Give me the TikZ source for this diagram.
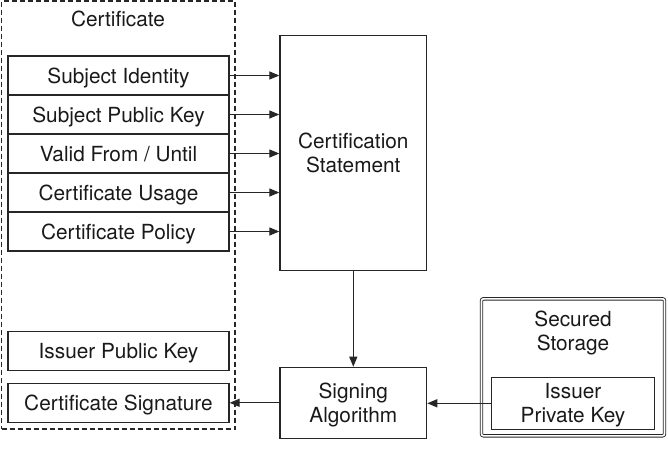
\documentclass[tikz,border=0pt]{standalone}
\usepackage{fontspec}
\setmainfont{TeX Gyre Heros}
\usetikzlibrary{arrows.meta}
\begin{document}
\begin{tikzpicture}[x=1pt,y=-1pt,
  txt/.style={inner sep=0pt, align=center, text depth=0pt, font=\fontsize{20.8}{24}\selectfont, text=black!90},
  box/.style={txt, draw=black!85, line width=1.2pt},
  field/.style={box, minimum width=221pt, minimum height=39pt},
  arr/.style={-{Triangle[length=10pt,width=8pt]}, line width=1.2pt, draw=black!85}]
\useasboundingbox (0,0) rectangle (668,474);
% certificate container
\node[draw=black!85, dashed, dash pattern=on 5pt off 3pt, line width=1.2pt, minimum width=233.5pt, minimum height=428pt, inner sep=0pt] (cert) at (118.25,215) {};
\node[txt] (certlbl) at (118,19) {Certificate};
\node[field] (r1) at (118.5,75.5) {Subject Identity};
\node[field] (r2) at (118.5,114.5) {Subject Public Key};
\node[field] (r3) at (118.5,153.5) {Valid From / Until};
\node[field] (r4) at (118.5,192.5) {Certificate Usage};
\node[field] (r5) at (118.5,231.5) {Certificate Policy};
\node[field] (ipub) at (118.5,351.2) {Issuer Public Key};
\node[field] (csig) at (118.5,403) {Certificate Signature};
% certification statement
\node[box, minimum width=146.7pt, minimum height=234.3pt] (cs) at (353.3,153) {Certification\\Statement};
% signing algorithm
\node[box, minimum width=146.7pt, minimum height=71pt] (sig) at (353.3,402.8) {Signing\\Algorithm};
% secured storage
\node[draw=black!85, double, double distance=1.6pt, line width=0.9pt, rounded corners=2pt, minimum width=183pt, minimum height=137pt, inner sep=0pt] (ss) at (573,367.3) {};
\node[txt] (sslbl) at (573,331) {Secured\\Storage};
\node[box, minimum width=162.6pt, minimum height=52pt] (ipk) at (573,403.3) {Issuer\\Private Key};
% connectors
\foreach \r in {r1,r2,r3,r4,r5}
  \draw[arr] (\r.east) -- (\r.east -| cs.west);
\draw[arr] (cs.south) -- (sig.north);
\draw[arr] (ipk.west) -- (ipk.west -| sig.east);
\draw[arr] (sig.west) -- (sig.west -| csig.east);
\end{tikzpicture}
\end{document}
